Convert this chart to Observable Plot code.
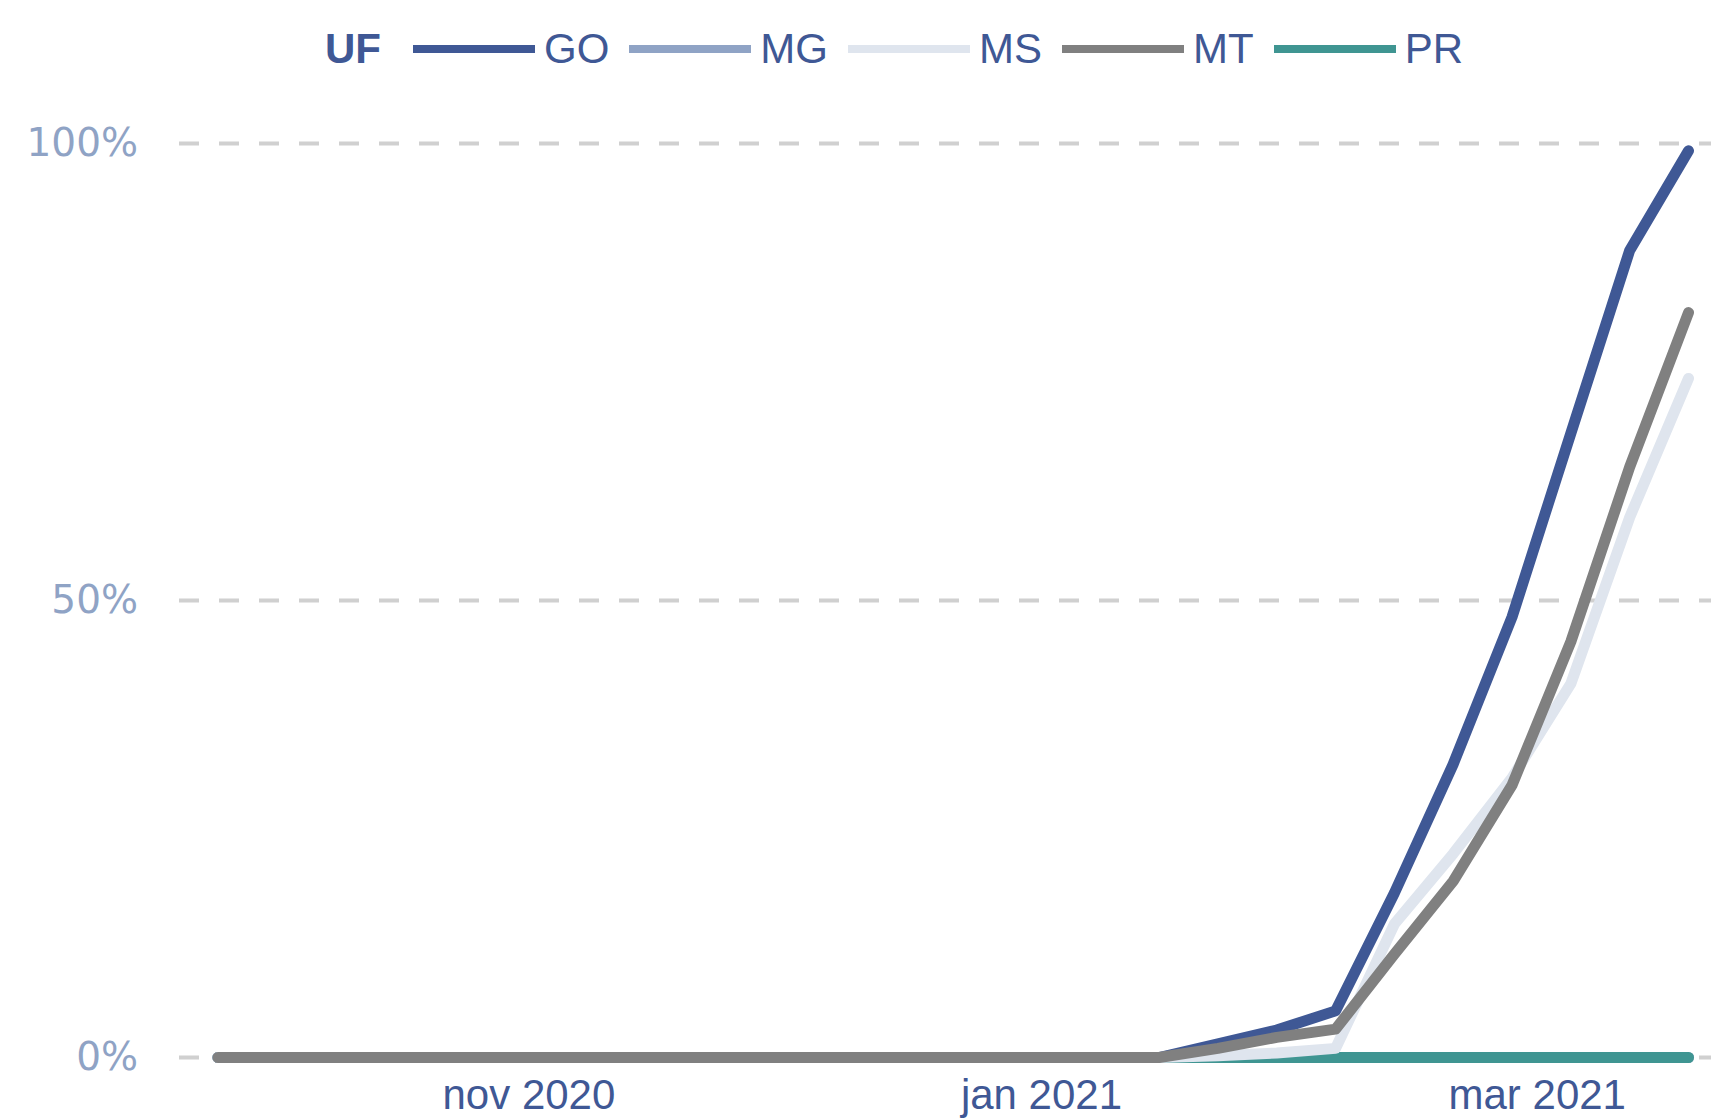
<!DOCTYPE html>
<html>
<head>
<meta charset="utf-8">
<script src="https://cdn.jsdelivr.net/npm/d3@7"></script>
<script src="https://cdn.jsdelivr.net/npm/@observablehq/plot@0.6"></script>
<style>
  html, body { margin: 0; padding: 0; background: #ffffff; }
  body { width: 1711px; height: 1120px; overflow: hidden; font-family: "Liberation Sans", Arial, sans-serif; }
  #legend { height: 98px; display: flex; align-items: center; padding-left: 325px; box-sizing: border-box;
            font-size: 42px; color: #3f5895; }
  #legend .title { font-weight: bold; font-size: 42px; margin-right: 32px; }
  #legend .sw { width: 122px; height: 7.5px; margin-right: 9px; }
  #legend .lab { margin-right: 20px; }
  #chart svg { display: block; }
</style>
</head>
<body>
<div id="legend"></div>
<div id="chart"></div>
<script>
// ---- data ----
const dates = [
  "2020-09-25","2020-10-02","2020-10-09","2020-10-16","2020-10-23","2020-10-30",
  "2020-11-06","2020-11-13","2020-11-20","2020-11-27","2020-12-04","2020-12-11",
  "2020-12-18","2020-12-25","2021-01-01","2021-01-08","2021-01-15","2021-01-22",
  "2021-01-29","2021-02-05","2021-02-12","2021-02-19","2021-02-26","2021-03-05",
  "2021-03-12","2021-03-19"
];
const legendTitle = "UF";
const seriesNames  = ["GO", "MG", "MS", "MT", "PR"];
const seriesColors = ["#3f5895", "#8fa3c5", "#dfe5ee", "#808080", "#3f9592"];

// percent of population (%), one value per week
const GO = [0,0,0,0,0,0,0,0,0,0,0,0,0,0,0,0,0, 1.5, 3.0, 5.1, 18.0, 32.1, 48.2, 68.3, 88.3, 99.2];
const MG = [0,0,0,0,0,0,0,0,0,0,0,0,0,0,0,0,0, 0, 0, 0, 0, 0, 0, 0, 0, 0];
const MS = [0,0,0,0,0,0,0,0,0,0,0,0,0,0,0,0,0, 0.2, 0.5, 1.0, 14.6, 22.3, 30.6, 40.9, 59.1, 74.3];
const MT = [0,0,0,0,0,0,0,0,0,0,0,0,0,0,0,0,0, 1.0, 2.2, 3.1, 11.3, 19.3, 29.8, 45.5, 64.6, 81.5];
const PR = [0,0,0,0,0,0,0,0,0,0,0,0,0,0,0,0,0, 0, 0, 0, 0, 0, 0, 0, 0, 0];

const seriesValues = {GO, MG, MS, MT, PR};
const drawOrder = ["MG", "PR", "GO", "MS", "MT"];   // stacking order of the lines

const yTicks = [0, 50, 100];
const xTicks = ["2020-11-01", "2021-01-01", "2021-03-01"];
const monthLabels = ["jan","fev","mar","abr","mai","jun","jul","ago","set","out","nov","dez"];

// ---- legend ----
const legend = document.getElementById("legend");
const t = document.createElement("span");
t.className = "title"; t.textContent = legendTitle; legend.appendChild(t);
seriesNames.forEach((name, i) => {
  const sw = document.createElement("div");
  sw.className = "sw"; sw.style.background = seriesColors[i];
  legend.appendChild(sw);
  const lab = document.createElement("span");
  lab.className = "lab"; lab.textContent = name;
  legend.appendChild(lab);
});

// ---- chart ----
const parse = d3.utcParse("%Y-%m-%d");
const rows = [];
for (const name of drawOrder) {
  seriesValues[name].forEach((v, i) => rows.push({date: parse(dates[i]), uf: name, value: v}));
}

const chart = Plot.plot({
  width: 1711,
  height: 1022,
  marginLeft: 179,
  marginRight: 0,
  marginTop: 45,
  marginBottom: 63,
  style: {background: "#ffffff", fontFamily: "Liberation Sans, Arial, sans-serif"},
  x: {type: "utc", domain: [parse(dates[0]), parse(dates[dates.length - 1])], insetLeft: 38.5, insetRight: 23, label: null},
  y: {domain: [0, 100], label: null},
  color: {domain: seriesNames, range: seriesColors},
  marks: [
    Plot.ruleY(yTicks, {stroke: "#d0d0d0", strokeWidth: 4, strokeDasharray: "20,20"}),
    Plot.axisY(yTicks, {tickSize: 0, tickPadding: 41.5, tickFormat: d => d + "%", label: null,
      fontSize: 39, fill: "#8fa3c5", fontFamily: "DejaVu Sans"}),
    Plot.axisX(xTicks.map(parse), {tickSize: 0, tickPadding: 22, label: null,
      tickFormat: d => monthLabels[d.getUTCMonth()] + " " + d.getUTCFullYear(),
      fontSize: 42, fill: "#3f5895", fontFamily: "Liberation Sans"}),
    Plot.line(rows, {x: "date", y: "value", z: "uf", stroke: "uf", strokeWidth: 11,
      strokeLinecap: "round", strokeLinejoin: "round"})
  ]
});
document.getElementById("chart").appendChild(chart);
</script>
</body>
</html>
